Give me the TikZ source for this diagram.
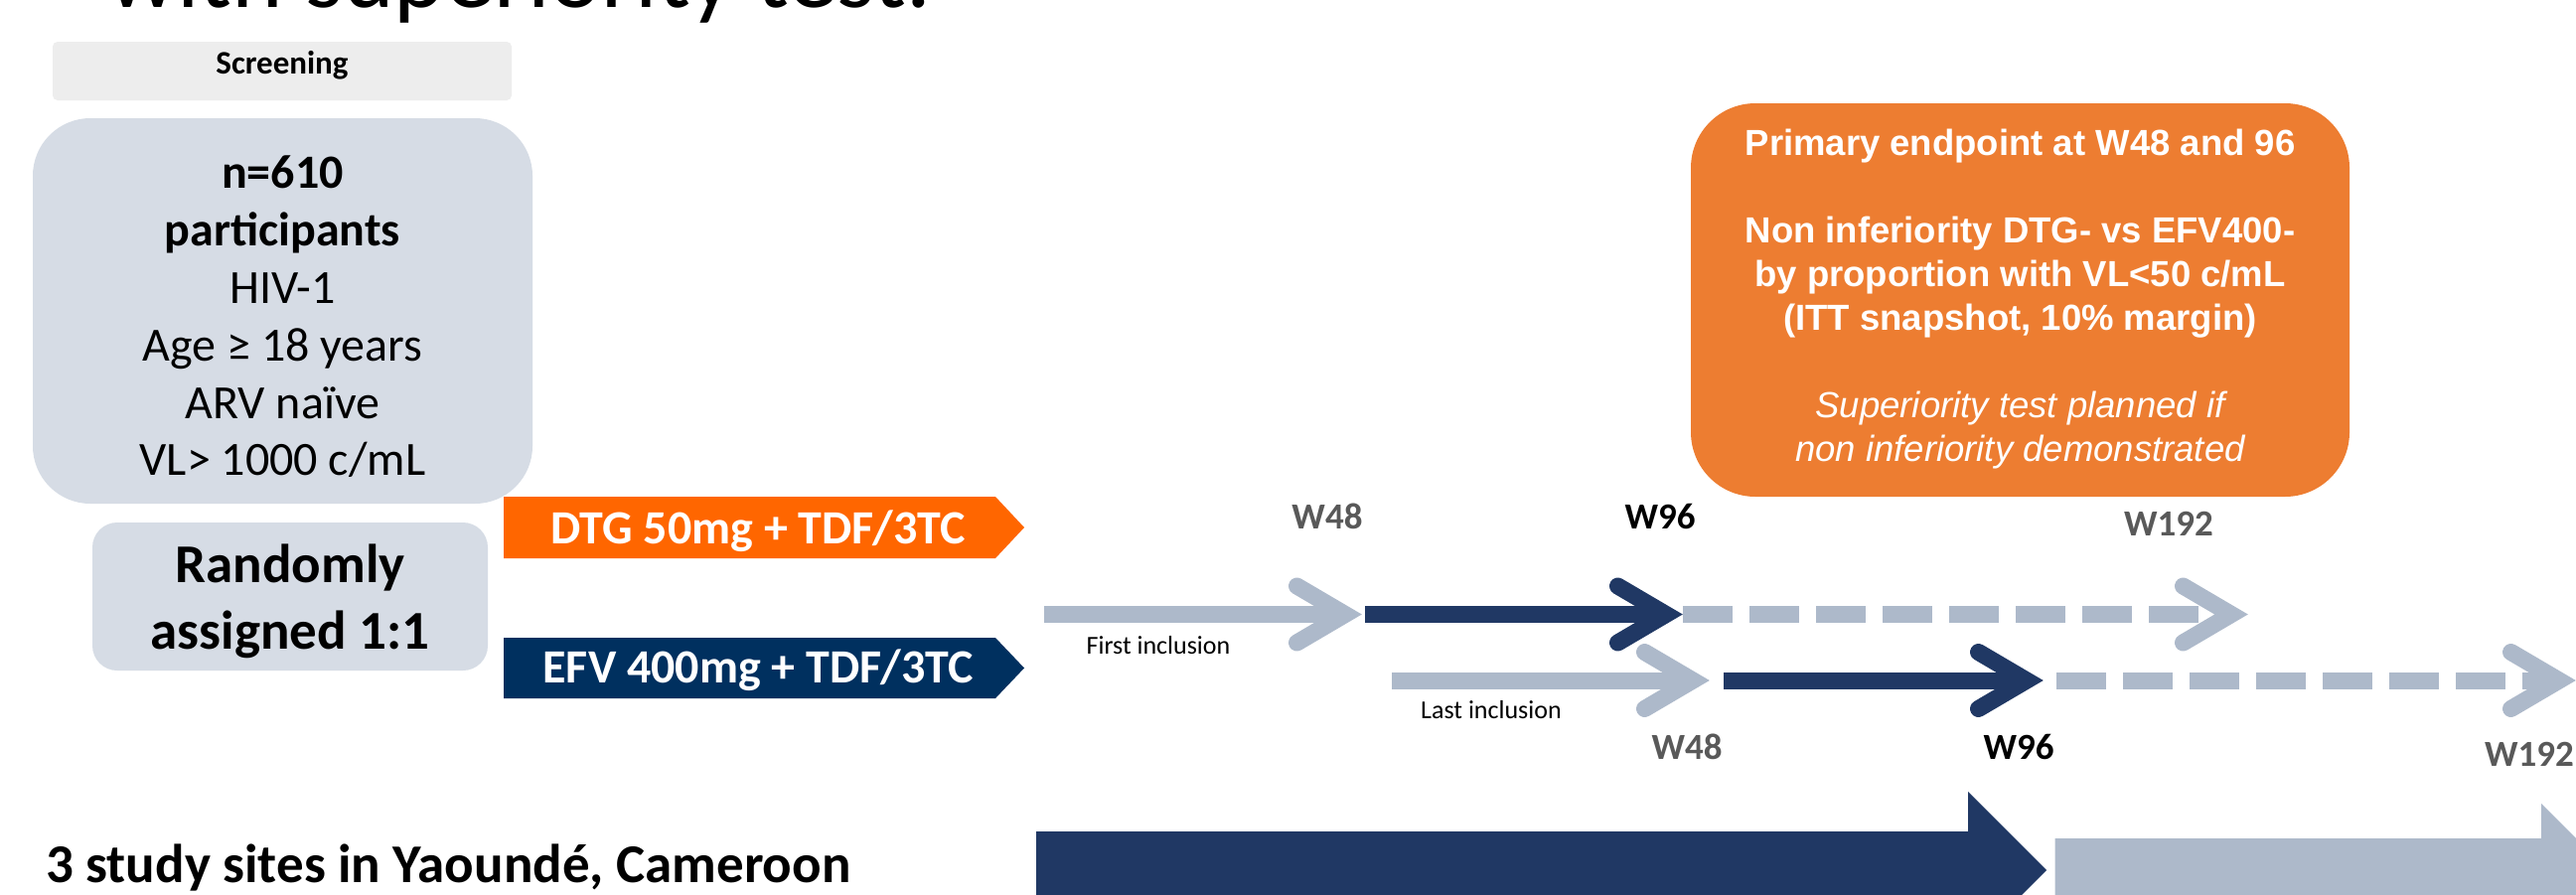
\documentclass[tikz,border=0pt]{standalone}
\usepackage{fontspec}
\setmainfont{Carlito}
\newfontfamily\arialf{Liberation Sans}
\usetikzlibrary{calc}
\definecolor{lightarr}{HTML}{ADB9CA}
\definecolor{darkarr}{HTML}{203864}
\definecolor{efvblue}{HTML}{00305F}
\definecolor{dtgorange}{HTML}{FF6600}
\definecolor{endorange}{HTML}{ED7D31}
\definecolor{boxgray}{HTML}{D6DCE5}
\definecolor{scrgray}{HTML}{EDEDED}
\definecolor{wgray}{HTML}{595959}
\newcommand\tlchev[2]{\draw[chev,#1] ($(#2)+(-48.5,-28.5)$) -- (#2) -- ($(#2)+(-48.5,28.5)$);}
\begin{document}
\begin{tikzpicture}[x=1pt,y=-1pt,
  shaft/.style={line width=17pt},
  chev/.style={line width=17pt, line cap=round, line join=miter, miter limit=10},
  dashshaft/.style={line width=17pt, dash pattern=on 50pt off 17pt},
  wlab/.style={anchor=base, inner sep=0pt, font=\bfseries\fontsize{37}{44}\selectfont},
  inclab/.style={anchor=base, inner sep=0pt, font=\fontsize{26}{31}\selectfont},
  armtxt/.style={anchor=base, inner sep=0pt, text=white, font=\bfseries\fontsize{48}{56}\selectfont},
  gbox/.style={fill=boxgray, inner sep=0pt}]
\useasboundingbox (0,0) rectangle (2593,900);
\fill[white] (0,0) rectangle (2593,900);
\clip (0,0) rectangle (2593,900);

% title (cut at top)
\node[anchor=base west, inner sep=0pt, font=\fontsize{98}{110}\selectfont] (title) at (108,7) {with superiority test.};

% screening
\node[fill=scrgray, rounded corners=5pt, minimum width=462pt, minimum height=59pt, inner sep=0pt] (scr) at (284,71.5) {};
\node[anchor=base, inner sep=0pt, font=\bfseries\fontsize{33}{38}\selectfont] (scrt) at (284,74) {Screening};

% participants
\node[gbox, rounded corners=58pt, minimum width=503pt, minimum height=388pt] (part) at (284.5,313) {};
\node[align=center, inner sep=0pt, font=\fontsize{48}{57.8}\selectfont] (partt) at (284.5,319)
  {\textbf{n=610}\\\textbf{participants}\\HIV-1\\Age ≥ 18 years\\ARV naïve\\VL> 1000 c/mL};

% randomisation
\node[gbox, rounded corners=25pt, minimum width=398pt, minimum height=149pt] (rand) at (292,600.5) {};
\node[align=center, inner sep=0pt, font=\bfseries\fontsize{55}{67}\selectfont] (randt) at (292,605) {Randomly\\assigned 1:1};

% arms
\fill[dtgorange] (507,500) -- (1002,500) -- (1031,531) -- (1002,562) -- (507,562) -- cycle;
\node[armtxt] (dtg) at (763,547) {DTG 50mg + TDF/3TC};
\fill[efvblue] (507,642) -- (1002,642) -- (1031,672.5) -- (1002,703) -- (507,703) -- cycle;
\node[armtxt] (efv) at (763,687) {EFV 400mg + TDF/3TC};

% study sites
\node[anchor=base west, inner sep=0pt, font=\bfseries\fontsize{55}{64}\selectfont] (sites) at (46,888) {3 study sites in Yaoundé, Cameroon};

% primary endpoint box
\node[fill=endorange, rounded corners=65pt, minimum width=663pt, minimum height=396pt, inner sep=0pt] (endp) at (2033.5,302) {};
\node[text=white, align=center, inner sep=0pt, font=\arialf\bfseries\fontsize{36.5}{44}\selectfont] (endpt) at (2033.5,301)
  {Primary endpoint at W48 and 96\\[44pt]Non inferiority DTG- vs EFV400-\\by proportion with VL<50 c/mL\\(ITT snapshot, 10\% margin)\\[44pt]{\itshape\mdseries Superiority test planned if}\\{\itshape\mdseries non inferiority demonstrated}};

% timeline coordinates
\coordinate (a1s) at (1051,618.5);
\coordinate (a1t) at (1354,618.5);
\coordinate (b1s) at (1374,618.5);
\coordinate (b1t) at (1677,618.5);
\coordinate (c1s) at (1694,618.5);
\coordinate (c1e) at (2213,618.5);
\coordinate (c1t) at (2246,618.5);
\coordinate (a2s) at (1401,685);
\coordinate (a2t) at (1704,685);
\coordinate (b2s) at (1735,685);
\coordinate (b2t) at (2040,685);
\coordinate (c2s) at (2070,685);
\coordinate (c2t) at (2576,685);

% row 1 (first inclusion)
\draw[shaft, lightarr] (a1s) -- (a1t);
\tlchev{lightarr}{a1t}
\draw[shaft, darkarr] (b1s) -- (b1t);
\tlchev{darkarr}{b1t}
\draw[dashshaft, lightarr] (c1s) -- (c1e);
\tlchev{lightarr}{c1t}

% row 2 (last inclusion)
\draw[shaft, lightarr] (a2s) -- (a2t);
\tlchev{lightarr}{a2t}
\draw[shaft, darkarr] (b2s) -- (b2t);
\tlchev{darkarr}{b2t}
\draw[dashshaft, lightarr] (c2s) -- (c2t);
\tlchev{lightarr}{c2t}

% labels
\node[wlab, text=wgray] (w48a) at (1336,532) {W48};
\node[wlab, text=black] (w96a) at (1671,532) {W96};
\node[wlab, text=wgray] (w192a) at (2183,539) {W192};
\node[wlab, text=wgray] (w48b) at (1698,764) {W48};
\node[wlab, text=black] (w96b) at (2032,764) {W96};
\node[wlab, text=wgray] (w192b) at (2546,771) {W192};
\node[inclab] (first) at (1166,658) {First inclusion};
\node[inclab] (last) at (1501,723) {Last inclusion};

% big bottom arrows
\fill[darkarr] (1043,837) -- (1981,837) -- (1981,797) -- (2060,876) -- (1981,955) -- (1981,915) -- (1043,915) -- cycle;
\fill[lightarr] (2068.5,844) -- (2558,844) -- (2558,809) -- (2631,882) -- (2558,955) -- (2558,920) -- (2068.5,920) -- cycle;
\end{tikzpicture}
\end{document}
